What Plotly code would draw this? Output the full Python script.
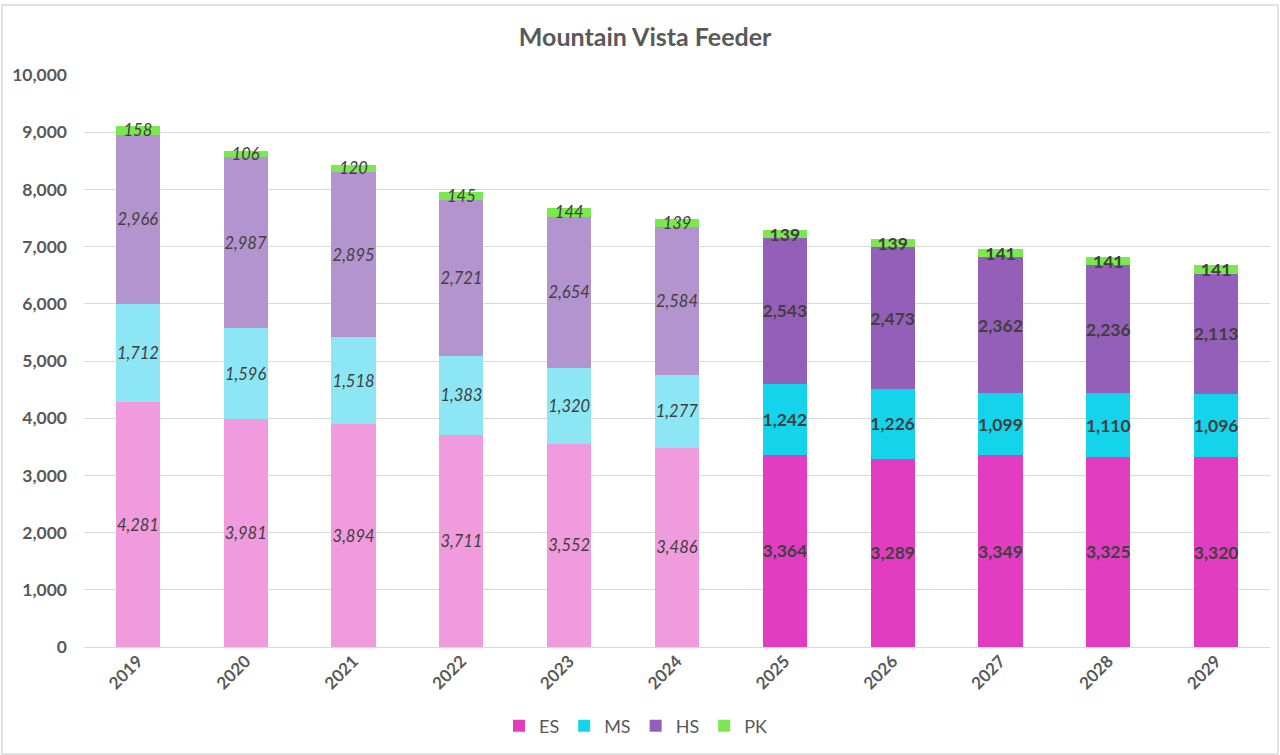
import plotly.graph_objects as go

years = ["2019", "2020", "2021", "2022", "2023", "2024", "2025", "2026", "2027", "2028", "2029"]
es = [4281, 3981, 3894, 3711, 3552, 3486, 3364, 3289, 3349, 3325, 3320]
ms = [1712, 1596, 1518, 1383, 1320, 1277, 1242, 1226, 1099, 1110, 1096]
hs = [2966, 2987, 2895, 2721, 2654, 2584, 2543, 2473, 2362, 2236, 2113]
pk = [158, 106, 120, 145, 144, 139, 139, 139, 141, 141, 141]
n_hist = 6  # 2019-2024 actual, 2025-2029 projected

series = [
    ("ES", es, "#F09BDD", "#E23DC1"),
    ("MS", ms, "#8DE6F4", "#14D4EC"),
    ("HS", hs, "#B394CF", "#945FB8"),
    ("PK", pk, "#7AE84E", "#7AE84E"),
]

FONT = "Lato"
fig = go.Figure()
for name, vals, light, dark in series:
    fig.add_trace(go.Bar(
        x=years[:n_hist], y=vals[:n_hist], name=name, showlegend=False,
        marker=dict(color=light, line=dict(width=0)),
        text=[f"<i>{v:,}</i>" for v in vals[:n_hist]],
        textposition="inside", insidetextanchor="middle", textangle=0,
        constraintext="none", cliponaxis=False, width=0.41,
        textfont=dict(family=FONT, size=16.5, color="#404040"),
        hoverinfo="skip", legendgroup=name))
for name, vals, light, dark in series:
    fig.add_trace(go.Bar(
        x=years[n_hist:], y=vals[n_hist:], name=name, showlegend=True,
        marker=dict(color=dark, line=dict(width=0)),
        text=[f"<b>{v:,}</b>" for v in vals[n_hist:]],
        textposition="inside", insidetextanchor="middle", textangle=0,
        constraintext="none", cliponaxis=False, width=0.41,
        textfont=dict(family=FONT, size=17.5, color="#404040"),
        hoverinfo="skip", legendgroup=name))

fig.update_layout(
    width=1280, height=755,
    barmode="stack",
    plot_bgcolor="white", paper_bgcolor="white",
    margin=dict(l=84, r=10, t=75, b=108),
    title=dict(text="<b>Mountain Vista Feeder</b>", x=0.504, xanchor="center",
               y=0.951, yanchor="middle", yref="container",
               font=dict(family=FONT, size=25, color="#595959")),
    font=dict(family=FONT, color="#595959"),
    xaxis=dict(categoryorder="array", categoryarray=years, tickangle=-45,
               tickfont=dict(family=FONT, size=17, color="#595959", weight="bold"),
               showgrid=False, showline=False, ticks=""),
    yaxis=dict(range=[0, 10000], dtick=1000, tickformat=",",
               tickfont=dict(family=FONT, size=17.5, color="#595959", weight="bold"),
               gridcolor="#D9D9D9", gridwidth=1, zeroline=True, zerolinecolor="#D9D9D9",
               zerolinewidth=1, showline=False, ticks="", ticklabelstandoff=16),
    legend=dict(orientation="h", x=0.465, xanchor="center", y=-0.138, yanchor="middle",
                traceorder="normal",
                font=dict(family=FONT, size=18, color="#595959"), itemwidth=30),
    shapes=[dict(type="rect", xref="paper", yref="paper",
                 x0=-0.0692, x1=1.0067, y0=-0.187, y1=1.1224,
                 line=dict(color="#D9D9D9", width=1.5), layer="below")],
)

fig.write_html("out.html", config={"displayModeBar": False},
               post_script="document.body.style.margin='0';document.body.style.overflow='hidden';")
